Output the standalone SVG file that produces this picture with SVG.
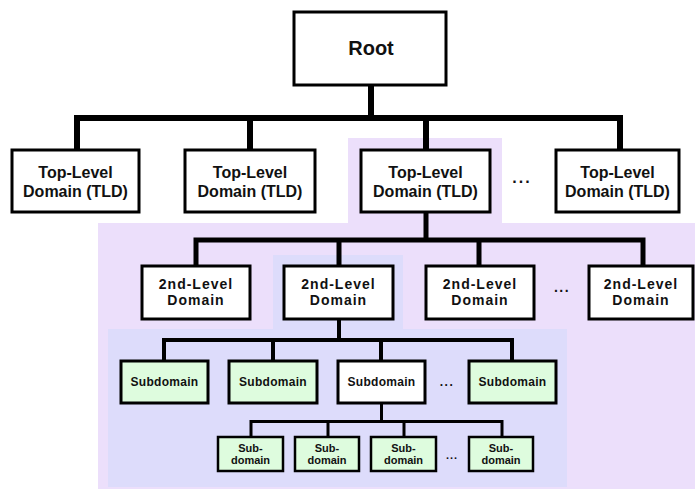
<svg xmlns="http://www.w3.org/2000/svg" width="695" height="489" viewBox="0 0 695 489">
<style>
.bg{stroke:none}
.box{fill:#fff;stroke:#000;stroke-width:3}
.green{fill:#defcde;stroke:#000;stroke-width:3}
.ss{fill:#defcde;stroke:#000;stroke-width:2.5}
text{font-family:"Liberation Sans",Arial,sans-serif;font-weight:bold;fill:#111;text-anchor:middle}
.t1{font-size:16px}
.t2{font-size:14px;letter-spacing:1px}
.t3{font-size:12px;letter-spacing:0.3px}
.t4{font-size:11px}
.con{fill:none;stroke:#000;stroke-linejoin:miter;stroke-linecap:butt}
</style>
<rect width="695" height="489" fill="#fff"/>
<path class="bg" fill="#ecdffb" d="M348,138 H502 V223 H695 V489 H98 V223 H348 Z"/>
<path class="bg" fill="#dddcfb" d="M273,255 H403 V329 H567 V487 H108 V329 H273 Z"/>
<g id="connectors">
<path class="con" stroke-width="6" d="M77,150 V118 H620 V150 M371,85 V118 M250,118 V150 M426,118 V150"/>
<path class="con" stroke-width="5" d="M426,212 V240 M196,266 V240 H643 V266 M339,240 V266 M479,240 V266"/>
<path class="con" stroke-width="4" d="M339,319 V340 M164,361 V340 H512 V361 M273,340 V361 M381,340 V361"/>
<path class="con" stroke-width="3" d="M381.5,403 V421.5 M251,437 V421.5 H502 V437 M328,421.5 V437 M404,421.5 V437"/>
</g>
<g id="root"><rect class="box" x="294" y="12" width="152" height="73"/><text x="371" y="55" style="font-size:20px">Root</text></g>
<g id="tld1"><rect class="box" x="12" y="150" width="127" height="62"/><text class="t1" x="75.5" y="178">Top-Level</text><text class="t1" x="75.5" y="197">Domain (TLD)</text></g>
<g id="tld2"><rect class="box" x="185" y="150" width="130" height="62"/><text class="t1" x="250" y="178">Top-Level</text><text class="t1" x="250" y="197">Domain (TLD)</text></g>
<g id="tld3"><rect class="box" x="361" y="150" width="129" height="62"/><text class="t1" x="425.5" y="178">Top-Level</text><text class="t1" x="425.5" y="197">Domain (TLD)</text></g>
<g id="tld-dots"><text class="t1" x="522" y="183" style="letter-spacing:2px">...</text></g>
<g id="tld4"><rect class="box" x="556" y="150" width="123" height="62"/><text class="t1" x="617.5" y="178">Top-Level</text><text class="t1" x="617.5" y="197">Domain (TLD)</text></g>
<g id="sld1"><rect class="box" x="142" y="266" width="108" height="53"/><text class="t2" x="196" y="289">2nd-Level</text><text class="t2" x="196" y="305">Domain</text></g>
<g id="sld2"><rect class="box" x="284" y="266" width="109" height="53"/><text class="t2" x="338.5" y="289">2nd-Level</text><text class="t2" x="338.5" y="305">Domain</text></g>
<g id="sld3"><rect class="box" x="426" y="266" width="108" height="53"/><text class="t2" x="480" y="289">2nd-Level</text><text class="t2" x="480" y="305">Domain</text></g>
<g id="sld-dots"><text class="t2" x="562" y="292" style="letter-spacing:1.5px">...</text></g>
<g id="sld4"><rect class="box" x="589" y="266" width="104" height="53"/><text class="t2" x="641" y="289">2nd-Level</text><text class="t2" x="641" y="305">Domain</text></g>
<g id="sub1"><rect class="green" x="121" y="361" width="87" height="42"/><text class="t3" x="164.5" y="386">Subdomain</text></g>
<g id="sub2"><rect class="green" x="229" y="361" width="88" height="42"/><text class="t3" x="273" y="386">Subdomain</text></g>
<g id="sub3"><rect class="box" x="338" y="361" width="87" height="42"/><text class="t3" x="381.5" y="386">Subdomain</text></g>
<g id="sub-dots"><text class="t3" x="447" y="386" style="letter-spacing:1.5px">...</text></g>
<g id="sub4"><rect class="green" x="469" y="361" width="87" height="42"/><text class="t3" x="512.5" y="386">Subdomain</text></g>
<g id="ss1"><rect class="ss" x="218" y="437" width="65" height="34"/><text class="t4" x="250.5" y="452">Sub-</text><text class="t4" x="250.5" y="464">domain</text></g>
<g id="ss2"><rect class="ss" x="295" y="437" width="64" height="34"/><text class="t4" x="327" y="452">Sub-</text><text class="t4" x="327" y="464">domain</text></g>
<g id="ss3"><rect class="ss" x="371" y="437" width="65" height="34"/><text class="t4" x="403.5" y="452">Sub-</text><text class="t4" x="403.5" y="464">domain</text></g>
<g id="ss-dots"><text class="t4" x="452" y="459" style="letter-spacing:1px">...</text></g>
<g id="ss4"><rect class="ss" x="469" y="437" width="64" height="34"/><text class="t4" x="501" y="452">Sub-</text><text class="t4" x="501" y="464">domain</text></g>
</svg>
